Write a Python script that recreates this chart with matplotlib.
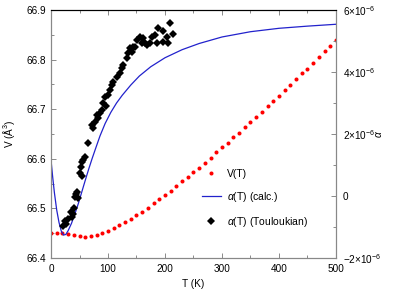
import numpy as np
import matplotlib.pyplot as plt
from matplotlib.ticker import MultipleLocator, FuncFormatter

plt.rcParams['font.family'] = ['Liberation Sans', 'DejaVu Sans']
plt.rcParams['mathtext.fontset'] = 'custom'
plt.rcParams['mathtext.rm'] = 'Liberation Sans'
plt.rcParams['mathtext.it'] = 'Liberation Sans:italic'
plt.rcParams['font.size'] = 7.2

# ----------------------------
# Data
# ----------------------------
# V(T), every 10 K from 0 to 500
T_v = np.arange(0, 501, 10)
V = [66.451, 66.451, 66.450, 66.448, 66.446, 66.444, 66.443, 66.444, 66.446, 66.450,
     66.455, 66.460, 66.466, 66.473, 66.479, 66.486, 66.493, 66.501, 66.510, 66.518,
     66.528, 66.536, 66.545, 66.555, 66.564, 66.573, 66.582, 66.592, 66.602, 66.613,
     66.623, 66.632, 66.643, 66.653, 66.664, 66.674, 66.685, 66.695, 66.706, 66.716,
     66.727, 66.739, 66.749, 66.761, 66.772, 66.782, 66.794, 66.805, 66.817, 66.828,
     66.839]

# alpha(T) calculated (units of 1e-6)
T_calc = [0, 3, 6, 10, 14, 18, 22, 26, 30, 36, 42, 48, 54, 60, 66, 72, 78, 86, 95,
          105, 115, 125, 140, 155, 175, 200, 230, 260, 300, 350, 400, 450, 500]
a_calc = [1.16, 0.6, 0.1, -0.45, -0.85, -1.13, -1.26, -1.24, -1.12, -0.88, -0.57,
          -0.24, 0.13, 0.5, 0.86, 1.2, 1.52, 1.94, 2.34, 2.7, 3.0, 3.25, 3.58, 3.87,
          4.17, 4.46, 4.72, 4.92, 5.13, 5.3, 5.41, 5.48, 5.54]

# alpha(T) Touloukian (units of 1e-6)
T_tou = [21.9, 25.4, 29.8, 26.3, 35.1, 39.1, 37.4, 40.4, 45.1, 42.1, 46.8, 43.9,
         59.6, 54.9, 52.6, 50.9, 53.9, 56.1, 65.4, 71.4, 74.2, 77.2, 80.2, 86.0,
         82.5, 88.9, 91.8, 96.5, 94.7, 100.5, 103.5, 106.5, 109.3, 115.3, 121.1,
         124.0, 126.8, 132.8, 135.6, 138.6, 141.6, 144.4, 147.4, 150.4, 156.1,
         159.1, 161.9, 164.9, 167.9, 173.7, 176.7, 182.5, 185.4, 188.2, 197.0,
         197.0, 203.0, 208.8, 213.5, 205.8]
a_tou = [-0.97, -0.81, -0.74, -0.90, -0.51, -0.58, -0.67, -0.39, 0.14, -0.02,
         -0.07, 0.06, 1.27, 1.11, 0.95, 0.73, 0.65, 1.16, 1.70, 2.29, 2.18, 2.40,
         2.61, 2.67, 2.52, 2.77, 2.99, 2.90, 3.20, 3.26, 3.42, 3.58, 3.69, 3.85,
         3.96, 4.12, 4.23, 4.44, 4.60, 4.76, 4.65, 4.82, 4.82, 5.03, 5.14, 4.93,
         5.09, 4.93, 4.87, 4.93, 5.14, 5.19, 4.93, 5.41, 5.33, 4.98, 5.14, 5.59,
         5.23, 4.93]

grey = '#888888'

fig = plt.figure(figsize=(4.15, 2.91), dpi=100)
ax = fig.add_axes([0.1229, 0.1134, 0.6867, 0.8522])
ax2 = ax.twinx()

p1, = ax.plot(T_v, V, 'o', color='red', markersize=2.9, markeredgewidth=0, label='V(T)')
p2, = ax2.plot(T_calc, np.array(a_calc) * 1e-6, '-', color='#2222cc', lw=0.9,
               label=r'$\alpha$(T) (calc.)')
p3, = ax2.plot(T_tou, np.array(a_tou) * 1e-6, 'D', color='black', markersize=4.4,
               markeredgewidth=0, label=r'$\alpha$(T) (Touloukian)')

ax.set_xlim(0, 500)
ax.set_ylim(66.4, 66.9)
ax2.set_ylim(-2e-6, 6e-6)

ax.xaxis.set_major_locator(MultipleLocator(100))
ax.xaxis.set_minor_locator(MultipleLocator(50))
ax.yaxis.set_major_locator(MultipleLocator(0.1))
ax.yaxis.set_minor_locator(MultipleLocator(0.05))
ax.yaxis.set_major_formatter(FuncFormatter(lambda v, p: f'{v:.1f}'))
ax2.yaxis.set_major_locator(MultipleLocator(2e-6))
ax2.yaxis.set_minor_locator(MultipleLocator(1e-6))


def sci(v, pos):
    m = round(v * 1e6)
    if m == 0:
        return '0'
    return r'$%d{\times}10^{-6}$' % m


ax2.yaxis.set_major_formatter(FuncFormatter(sci))

for a in (ax, ax2):
    a.tick_params(which='both', direction='in', colors='#777777', labelcolor='black',
                  width=0.6)
    a.tick_params(which='major', length=3.5)
    a.tick_params(which='minor', length=2)
    for s in ('left', 'right', 'bottom'):
        a.spines[s].set_color(grey)
        a.spines[s].set_linewidth(0.8)
    a.spines['top'].set_color('black')
    a.spines['top'].set_linewidth(0.8)
ax.tick_params(which='both', top=True)
ax.tick_params(axis='x', pad=4)
ax2.tick_params(axis='y', pad=5)

ax.set_xlabel('T (K)')
ax.set_ylabel('V (Å$^3$)')
ax.yaxis.set_label_coords(-0.118, 0.5)
ax2.set_ylabel(r'$\alpha$', rotation=90)
ax2.yaxis.set_label_coords(1.133, 0.5)

ax2.legend(handles=[p1, p2, p3], loc='upper left', bbox_to_anchor=(0.51, 0.38),
           frameon=False, borderpad=0, handlelength=1.9, handletextpad=0.55,
           labelspacing=1.05, numpoints=1, fontsize=7.5)

fig.savefig('out.png', dpi=100)
